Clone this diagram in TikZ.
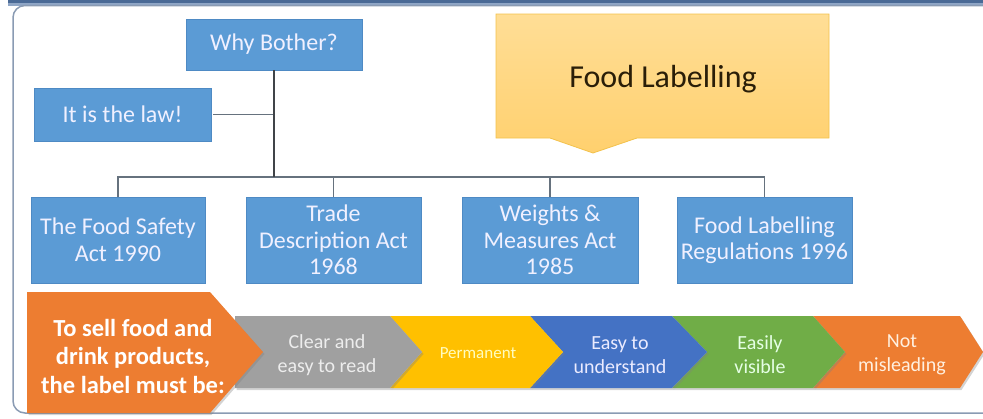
\documentclass[tikz,border=0pt]{standalone}
\usepackage{fontspec}
\setmainfont{Carlito}
\usetikzlibrary{shadows}
\definecolor{boxblue}{HTML}{5B9BD5}
\definecolor{boxedge}{HTML}{4E8AC4}
\definecolor{framec}{HTML}{8A9BB3}
\definecolor{topband}{HTML}{4A6A96}
\definecolor{topband2}{HTML}{8FA6C6}
\definecolor{connA}{HTML}{404448}
\definecolor{connB}{HTML}{66727E}
\definecolor{calltop}{HTML}{FFDE96}
\definecolor{callbot}{HTML}{FFD06E}
\definecolor{calledge}{HTML}{F3C24C}
\definecolor{calltext}{HTML}{2A1E08}
\definecolor{chorange}{HTML}{ED7D31}
\definecolor{chgray}{HTML}{A0A0A0}
\definecolor{chyellow}{HTML}{FFC000}
\definecolor{chblue}{HTML}{4472C4}
\definecolor{chgreen}{HTML}{70AD47}
\begin{document}
\begin{tikzpicture}[x=1pt,y=-1pt,
  bluebox/.style={fill=boxblue, draw=boxedge, line width=0.6pt, text=white!94!blue,
    font=\fontsize{24}{26.5}\selectfont, align=center, inner sep=0pt},
  mainconn/.style={draw=connA, line width=1.6pt},
  branch/.style={draw=connB, line width=1.2pt},
  chev/.style={drop shadow={shadow xshift=1.5pt, shadow yshift=-2pt, opacity=0.35}},
  chtext/.style={font=\fontsize{20}{24}\selectfont, align=center, inner sep=0pt}
]
\useasboundingbox (0,0) rectangle (983,418);
% frame
\fill[topband2] (8,2.5) rectangle (1000,5.5);
\fill[topband] (8,0) rectangle (1000,2.5);
\draw[framec, line width=1.5pt, rounded corners=12pt] (13,5.5) rectangle (1100,413);

% callout
\path[draw=calledge, line width=0.8pt, top color=calltop, bottom color=callbot]
  (496,14) -- (829,14) -- (829,138) -- (637,138) -- (593,153) -- (550,138) -- (496,138) -- cycle;
\node[text=calltext, font=\fontsize{32}{36}\selectfont, inner sep=0pt] (fl) at (663,79) {Food Labelling};

% blue boxes
\node[bluebox, minimum width=176pt, minimum height=51pt] (why) at (274,44.5) {Why Bother?};
\node[bluebox, minimum width=177pt, minimum height=53pt] (law) at (122.5,114.5) {It is the law!};
\node[bluebox, minimum width=174pt, minimum height=86pt] (b1) at (118,240) {The Food Safety\\Act 1990};
\node[bluebox, minimum width=175pt, minimum height=86pt] (b2) at (333.5,240) {Trade\\Description Act\\1968};
\node[bluebox, minimum width=176pt, minimum height=86pt] (b3) at (550,240) {Weights \&\\Measures Act\\1985};
\node[bluebox, minimum width=175pt, minimum height=86pt] (b4) at (764.5,240) {Food Labelling\\Regulations 1996};

% connectors
\coordinate (hub) at (274,177);
\draw[branch] (b1.north) -- (b1.north |- hub) -- (b4.north |- hub) -- (b4.north);
\draw[branch] (b2.north) -- (b2.north |- hub);
\draw[branch] (b3.north) -- (b3.north |- hub);
\draw[branch] ([xshift=2pt]law.east) -- (law.east -| hub);
\draw[mainconn] (why.south) -- (hub);

% chevrons
\fill[chev, chorange] (813,316) -- (960,316) -- (983,352) -- (960,388) -- (813,388) -- (845,352) -- cycle;
\fill[chev, chgreen] (672,316) -- (813,316) -- (845,352) -- (813,388) -- (672,388) -- (707,352) -- cycle;
\fill[chev, chblue] (530,316) -- (672,316) -- (707,352) -- (672,388) -- (530,388) -- (563,352) -- cycle;
\fill[chev, chyellow] (390,316) -- (530,316) -- (563,352) -- (530,388) -- (390,388) -- (422,352) -- cycle;
\fill[chev, chgray] (235,316) -- (390,316) -- (422,352) -- (390,388) -- (235,388) -- cycle;
\fill[chev, chorange] (27,292) -- (210,292) -- (263,352) -- (210,413) -- (27,413) -- cycle;

\node[chtext, text=white, font=\bfseries\fontsize{24.5}{28.5}\selectfont] (c0) at (133,356)
  {To sell food and\\drink products,\\the label must be:};
\node[chtext, text=white!93!black] (c1) at (327,355) {Clear and\\easy to read};
\node[chtext, text=yellow!25!white, font=\fontsize{17}{20}\selectfont] (c2) at (478,353) {Permanent};
\node[chtext, text=blue!8!white] (c3) at (620,355) {Easy to\\understand};
\node[chtext, text=green!10!white] (c4) at (760,355) {Easily\\visible};
\node[chtext, text=orange!12!white] (c5) at (902,355) {Not\\misleading};
\end{tikzpicture}
\end{document}
